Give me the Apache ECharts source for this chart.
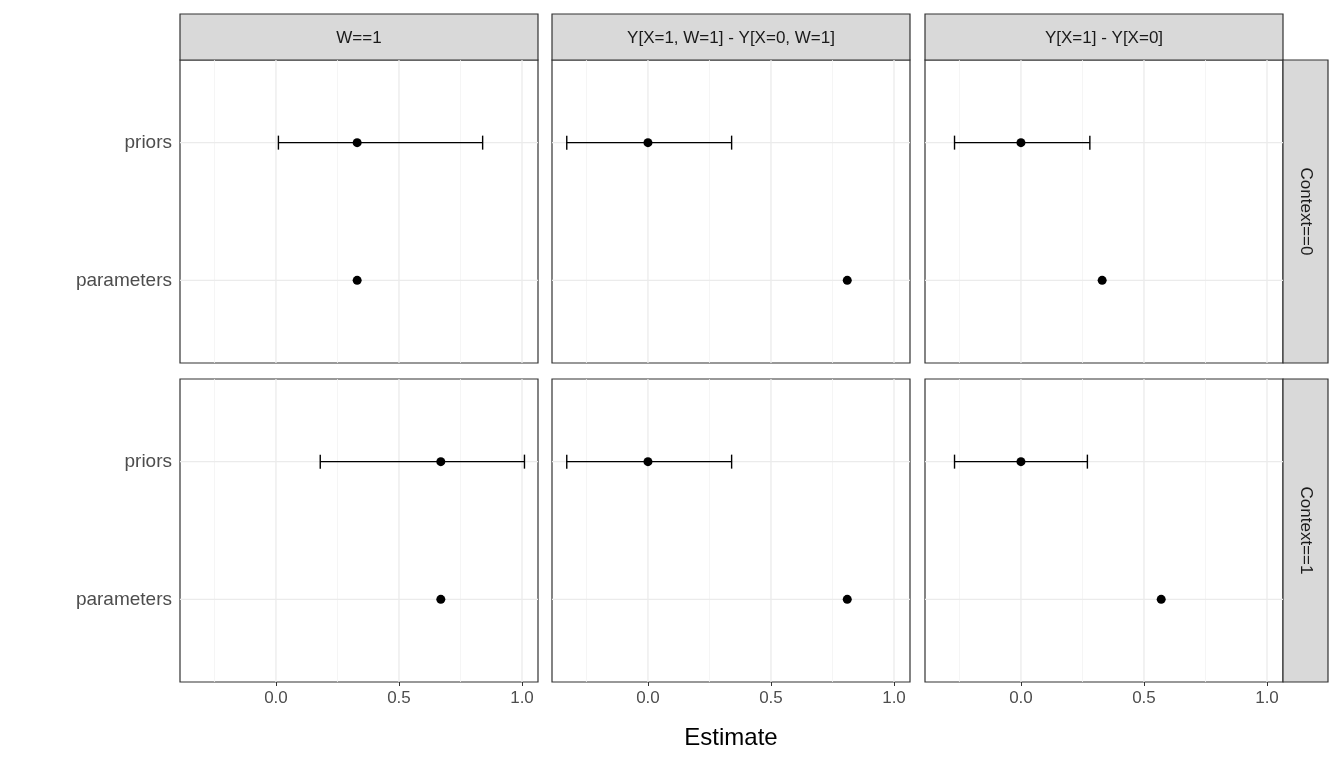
<!DOCTYPE html>
<html><head><meta charset="utf-8">
<script src="https://cdn.jsdelivr.net/npm/echarts@6/dist/echarts.min.js"></script>
<style>html,body{margin:0;background:#fff}#c{width:1344px;height:768px}</style>
</head><body><div id="c"></div>
<script>
const colTitles = ["W==1", "Y[X=1, W=1] - Y[X=0, W=1]", "Y[X=1] - Y[X=0]"];
const rowTitles = ["Context==0", "Context==1"];
const yCats = ["parameters", "priors"]; // y = 1, 2
// [row][col] : estimate, lower, upper for priors; estimate for parameters
const priorEst = [[0.33, 0, 0], [0.67, 0, 0]];
const priorLow = [[0.01, -0.33, -0.27], [0.18, -0.33, -0.27]];
const priorHigh = [[0.84, 0.34, 0.28], [1.01, 0.34, 0.27]];
const paramEst = [[0.33, 0.81, 0.33], [0.67, 0.81, 0.57]];
const gridX = [-0.25, 0, 0.25, 0.5, 0.75, 1];
const majorX = [0, 0.5, 1];

const colLeft = [180, 552, 925], panelW = 358;
const rowTop = [60, 379], panelH = 303;
const chart = echarts.init(document.getElementById('c'));
const grid = [], xAxis = [], yAxis = [], series = [], graphic = [];
const font = 'Liberation Sans, Arial, sans-serif';

for (let r = 0; r < 2; r++) for (let c = 0; c < 3; c++) {
  const i = r * 3 + c;
  grid.push({ left: colLeft[c], top: rowTop[r], width: panelW, height: panelH, show: true,
    borderColor: '#333', borderWidth: 1.2, backgroundColor: '#fff' });
  xAxis.push({ gridIndex: i, type: 'value', min: -0.39, max: 1.065,
    axisLine: { show: false }, splitLine: { show: false },
    axisTick: { show: r === 1, customValues: majorX, length: 4, lineStyle: { color: '#333' } },
    axisLabel: { show: r === 1, customValues: majorX, color: '#4D4D4D', fontSize: 17, fontFamily: font,
      formatter: v => v.toFixed(1), margin: 8 } });
  yAxis.push({ gridIndex: i, type: 'value', min: 0.4, max: 2.6,
    axisLine: { show: false }, splitLine: { show: false },
    axisTick: { show: c === 0, customValues: [1, 2], length: 4, lineStyle: { color: '#333' } },
    axisLabel: { show: c === 0, customValues: [1, 2], color: '#4D4D4D', fontSize: 19, fontFamily: font,
      formatter: v => yCats[v - 1], margin: 8 } });
  series.push({ type: 'custom', xAxisIndex: i, yAxisIndex: i, silent: true, z: 1,
    data: gridX.map(v => [v]),
    renderItem: (p, api) => {
      const v = api.value(0);
      const a = api.coord([v, 0.4]), b = api.coord([v, 2.6]);
      return { type: 'line', shape: { x1: a[0], y1: a[1], x2: b[0], y2: b[1] },
        style: { stroke: majorX.includes(v) ? '#EBEBEB' : '#F3F3F3', lineWidth: majorX.includes(v) ? 1.3 : 0.8 } };
    } });
  series.push({ type: 'custom', xAxisIndex: i, yAxisIndex: i, silent: true, z: 1,
    data: [[1], [2]],
    renderItem: (p, api) => {
      const v = api.value(0);
      const a = api.coord([-0.39, v]), b = api.coord([1.065, v]);
      return { type: 'line', shape: { x1: a[0], y1: a[1], x2: b[0], y2: b[1] },
        style: { stroke: '#EBEBEB', lineWidth: 1.3 } };
    } });
  series.push({ type: 'custom', xAxisIndex: i, yAxisIndex: i, z: 3,
    data: [[priorLow[r][c], priorHigh[r][c], 2]],
    renderItem: (p, api) => {
      const a = api.coord([api.value(0), api.value(2)]), b = api.coord([api.value(1), api.value(2)]);
      const h = 7, st = { stroke: '#000', lineWidth: 1.4 };
      return { type: 'group', children: [
        { type: 'line', shape: { x1: a[0], y1: a[1], x2: b[0], y2: b[1] }, style: st },
        { type: 'line', shape: { x1: a[0], y1: a[1] - h, x2: a[0], y2: a[1] + h }, style: st },
        { type: 'line', shape: { x1: b[0], y1: b[1] - h, x2: b[0], y2: b[1] + h }, style: st }] };
    } });
  series.push({ type: 'scatter', xAxisIndex: i, yAxisIndex: i, z: 4, symbolSize: 9,
    itemStyle: { color: '#000', opacity: 1 },
    data: [[priorEst[r][c], 2], [paramEst[r][c], 1]] });
}
for (let c = 0; c < 3; c++) {
  graphic.push({ type: 'rect', shape: { x: colLeft[c], y: 14, width: panelW, height: 46 },
    style: { fill: '#D9D9D9', stroke: '#333', lineWidth: 1.2 } });
  graphic.push({ type: 'text', x: colLeft[c] + panelW / 2, y: 38,
    style: { text: colTitles[c], fill: '#1A1A1A', fontSize: 17, fontFamily: font, align: 'center', verticalAlign: 'middle' } });
}
for (let r = 0; r < 2; r++) {
  graphic.push({ type: 'rect', shape: { x: 1283, y: rowTop[r], width: 45, height: panelH },
    style: { fill: '#D9D9D9', stroke: '#333', lineWidth: 1.2 } });
  graphic.push({ type: 'text', x: 1305.5, y: rowTop[r] + panelH / 2, rotation: -Math.PI / 2,
    style: { text: rowTitles[r], fill: '#1A1A1A', fontSize: 17, fontFamily: font, align: 'center', verticalAlign: 'middle' } });
}
graphic.push({ type: 'text', x: 731, y: 738,
  style: { text: 'Estimate', fill: '#000', fontSize: 24, fontFamily: font, align: 'center', verticalAlign: 'middle' } });

chart.setOption({ animation: false, grid, xAxis, yAxis, series, graphic });
</script></body></html>
